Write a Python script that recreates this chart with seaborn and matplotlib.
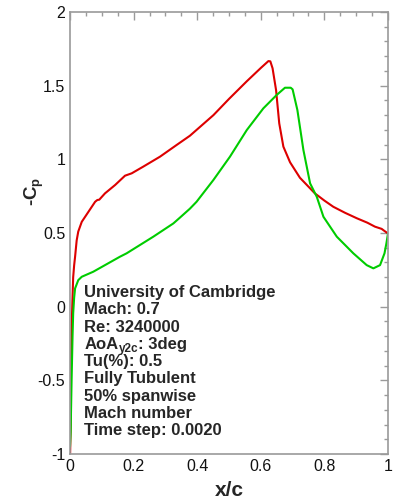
import numpy as np
import pandas as pd
import seaborn as sns
import matplotlib.pyplot as plt
from matplotlib.ticker import MultipleLocator, FormatStrFormatter

# upper surface (red) and lower surface (green), -Cp vs x/c
x_upper = [0.0, 0.002, 0.003, 0.005, 0.008, 0.010, 0.013, 0.016, 0.021, 0.026, 0.037, 0.058,
           0.079, 0.086, 0.092, 0.110, 0.142, 0.173, 0.194, 0.230, 0.283, 0.335, 0.377,
           0.451, 0.5, 0.556, 0.6, 0.624, 0.630, 0.637, 0.648, 0.658, 0.671, 0.692, 0.723,
           0.755, 0.770, 0.800, 0.828, 0.865, 0.902, 0.935, 0.959, 0.980, 0.990, 1.0]
cp_upper = [-1.05, -0.8, -0.385, -0.15, 0.067, 0.2, 0.28, 0.339, 0.45, 0.51, 0.576, 0.644,
            0.712, 0.724, 0.726, 0.769, 0.826, 0.889, 0.905, 0.950, 1.018, 1.097, 1.160,
            1.30, 1.41, 1.53, 1.62, 1.667, 1.665, 1.618, 1.470, 1.244, 1.086, 0.980, 0.875,
            0.803, 0.769, 0.72, 0.678, 0.637, 0.600, 0.570, 0.543, 0.528, 0.512, 0.497]

x_lower = [0.0, 0.002, 0.005, 0.008, 0.010, 0.013, 0.016, 0.026, 0.037, 0.073, 0.157,
           0.178, 0.262, 0.325, 0.346, 0.377, 0.398, 0.451, 0.503, 0.556, 0.608, 0.650,
           0.676, 0.694, 0.700, 0.715, 0.734, 0.755, 0.776, 0.797, 0.839, 0.891, 0.933,
           0.954, 0.975, 0.989, 0.995, 1.0]
cp_lower = [-0.95, -0.85, -0.50, -0.2, -0.045, 0.06, 0.124, 0.18, 0.203, 0.237, 0.339,
            0.362, 0.475, 0.565, 0.605, 0.665, 0.712, 0.860, 1.018, 1.199, 1.346, 1.437,
            1.486, 1.486, 1.475, 1.335, 1.063, 0.837, 0.746, 0.610, 0.475, 0.362, 0.282,
            0.260, 0.282, 0.362, 0.43, 0.497]

# info block; the AoA line gets a "y2c" subscript
info_lines = ["University of Cambridge", "Mach: 0.7", "Re: 3240000",
              ("AoA", "y2c", ": 3deg"), "Tu(%): 0.5", "Fully Tubulent",
              "50% spanwise", "Mach number", "Time step: 0.0020"]

sns.set_theme(style="white")
plt.rcParams["font.family"] = ["Liberation Sans", "DejaVu Sans"]
plt.rcParams["mathtext.default"] = "regular"

fig = plt.figure(figsize=(3.95, 5.03), dpi=100)
ax = fig.add_axes([70 / 395, 1 - 454 / 503, 318 / 395, 442 / 503])

sns.lineplot(x=x_upper, y=cp_upper, sort=False, estimator=None, color="#dd0000",
             linewidth=1.5, ax=ax)
sns.lineplot(x=x_lower, y=cp_lower, sort=False, estimator=None, color="#00cc00",
             linewidth=1.5, ax=ax)

ax.set_xlim(0, 1)
ax.set_ylim(-1, 2)
ax.xaxis.set_major_locator(MultipleLocator(0.2))
ax.xaxis.set_minor_locator(MultipleLocator(0.05))
ax.yaxis.set_major_locator(MultipleLocator(0.5))
ax.yaxis.set_minor_locator(MultipleLocator(0.1))
ax.xaxis.set_major_formatter(FormatStrFormatter("%g"))
ax.yaxis.set_major_formatter(FormatStrFormatter("%g"))

spine_c = "#9a9a9a"
for s in ax.spines.values():
    s.set_color(spine_c)
    s.set_linewidth(1.2)
ax.tick_params(which="both", direction="in", top=True, right=True, color=spine_c,
               width=1.0, labelsize=11.5, labelcolor="#111111")
ax.tick_params(which="major", length=5.5, pad=3.5)
ax.tick_params(which="minor", length=3)

ax.set_xlabel("x/c", fontsize=15, fontweight="bold")
ax.set_ylabel(r"-C$_\mathregular{p}$", fontsize=13.5, fontweight="bold")
ax.xaxis.set_label_coords(0.5, -0.062)
ax.yaxis.set_label_coords(-0.075, 0.595)

fs = 12
for i, line in enumerate(info_lines):
    y = 0.065 - i * 0.117
    if isinstance(line, tuple):
        t1 = ax.text(0.045, y, line[0], fontsize=fs, fontweight="bold",
                     va="baseline", ha="left")
        t2 = ax.annotate(line[1], xy=(1, 0), xycoords=t1, xytext=(0.3, -0.5),
                         textcoords="offset points", fontsize=8.5, fontweight="bold",
                         va="baseline", ha="left")
        ax.annotate(line[2], xy=(1, 0), xycoords=(t2, t1), fontsize=fs,
                    fontweight="bold", va="bottom", ha="left")
    else:
        ax.text(0.045, y, line, fontsize=fs, fontweight="bold",
                va="baseline", ha="left")

fig.savefig("out.png", dpi=100)
